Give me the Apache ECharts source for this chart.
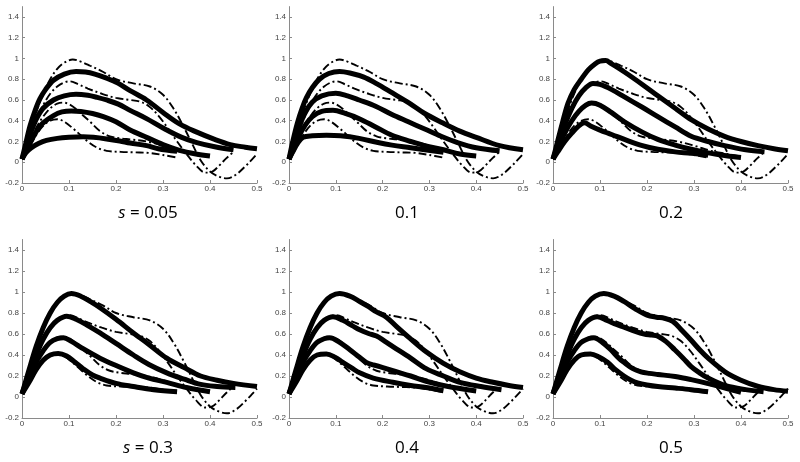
<!DOCTYPE html>
<html><head><meta charset="utf-8">
<script src="https://cdn.jsdelivr.net/npm/echarts@6/dist/echarts.min.js"></script>
<style>html,body{margin:0;padding:0;background:#fff}#c{width:800px;height:462px}</style>
</head><body><div id="c"></div><script>
// panel captions (s values)
const panelLabels = ['0.05', '0.1', '0.2', '0.3', '0.4', '0.5'];
const xTicks = [0, 0.1, 0.2, 0.3, 0.4, 0.5];
const yTicks = [-0.2, 0, 0.2, 0.4, 0.6, 0.8, 1, 1.2, 1.4];

// dash-dot reference curves (same in every panel)
const ref1 = [[0,0.03],[0.015,0.14],[0.03,0.26],[0.045,0.35],[0.06,0.4],[0.075,0.415],[0.09,0.39],[0.11,0.32],[0.125,0.26],[0.14,0.2],[0.16,0.14],[0.18,0.11],[0.21,0.1],[0.24,0.095],[0.27,0.09],[0.3,0.07],[0.33,0.045]];
const ref2 = [[0,0.03],[0.015,0.18],[0.03,0.33],[0.045,0.44],[0.06,0.52],[0.075,0.565],[0.088,0.575],[0.1,0.56],[0.116,0.51],[0.13,0.45],[0.145,0.39],[0.166,0.3],[0.187,0.25],[0.21,0.23],[0.23,0.22],[0.265,0.2],[0.3,0.16],[0.336,0.11],[0.37,0.08],[0.4,0.055]];
const ref3 = [[0,0.03],[0.015,0.22],[0.03,0.4],[0.045,0.55],[0.06,0.66],[0.075,0.73],[0.09,0.77],[0.102,0.78],[0.12,0.75],[0.14,0.71],[0.17,0.66],[0.2,0.62],[0.23,0.6],[0.25,0.585],[0.27,0.54],[0.29,0.45],[0.31,0.33],[0.33,0.2],[0.35,0.08],[0.37,-0.03],[0.39,-0.1],[0.405,-0.09],[0.42,-0.03],[0.435,0.04],[0.45,0.1]];
const ref4 = [[0,0.03],[0.015,0.26],[0.03,0.48],[0.045,0.66],[0.06,0.8],[0.075,0.9],[0.09,0.96],[0.108,0.99],[0.125,0.97],[0.145,0.93],[0.173,0.87],[0.2,0.8],[0.237,0.76],[0.272,0.73],[0.3,0.65],[0.322,0.52],[0.343,0.35],[0.364,0.16],[0.38,0.02],[0.4,-0.09],[0.42,-0.14],[0.436,-0.155],[0.455,-0.12],[0.475,-0.04],[0.49,0.03],[0.5,0.08]];

// solid curves, panel s = 0.05
const p1a = [[0,0.03],[0.008,0.09],[0.02,0.14],[0.035,0.18],[0.052,0.21],[0.075,0.23],[0.1,0.24],[0.13,0.245],[0.152,0.24],[0.18,0.225],[0.208,0.205],[0.23,0.185],[0.265,0.16],[0.29,0.13],[0.33,0.105]];
const p1b = [[0,0.03],[0.01,0.12],[0.02,0.21],[0.031,0.3],[0.045,0.38],[0.067,0.45],[0.085,0.485],[0.105,0.495],[0.125,0.49],[0.15,0.47],[0.173,0.44],[0.2,0.39],[0.23,0.31],[0.265,0.24],[0.3,0.17],[0.335,0.115],[0.37,0.08],[0.4,0.06]];
const p1c = [[0,0.03],[0.01,0.16],[0.02,0.3],[0.031,0.42],[0.045,0.52],[0.067,0.6],[0.09,0.64],[0.115,0.655],[0.14,0.645],[0.16,0.625],[0.18,0.6],[0.205,0.56],[0.23,0.5],[0.265,0.42],[0.3,0.33],[0.34,0.24],[0.372,0.19],[0.41,0.15],[0.45,0.12]];
const p1d = [[0,0.03],[0.008,0.18],[0.017,0.35],[0.028,0.5],[0.038,0.61],[0.05,0.7],[0.067,0.79],[0.09,0.85],[0.115,0.875],[0.135,0.87],[0.155,0.85],[0.18,0.81],[0.205,0.76],[0.23,0.69],[0.265,0.6],[0.3,0.48],[0.335,0.37],[0.372,0.29],[0.41,0.22],[0.443,0.17],[0.475,0.145],[0.5,0.13]];
// panel s = 0.1
const p2a = [[0,0.03],[0.008,0.1],[0.018,0.18],[0.03,0.24],[0.05,0.255],[0.08,0.26],[0.11,0.255],[0.15,0.23],[0.19,0.19],[0.22,0.165],[0.26,0.14],[0.29,0.12],[0.33,0.095]];
const p2b = [[0,0.03],[0.01,0.13],[0.02,0.24],[0.035,0.36],[0.05,0.44],[0.07,0.49],[0.094,0.5],[0.12,0.47],[0.15,0.42],[0.185,0.34],[0.22,0.26],[0.26,0.2],[0.29,0.16],[0.33,0.12],[0.365,0.08],[0.4,0.06]];
const p2c = [[0,0.03],[0.01,0.17],[0.02,0.32],[0.035,0.48],[0.05,0.58],[0.07,0.64],[0.1,0.665],[0.125,0.64],[0.15,0.6],[0.185,0.54],[0.22,0.46],[0.255,0.39],[0.29,0.32],[0.325,0.25],[0.36,0.19],[0.4,0.14],[0.45,0.11]];
const p2d = [[0,0.03],[0.008,0.2],[0.018,0.38],[0.028,0.52],[0.037,0.62],[0.05,0.72],[0.065,0.8],[0.085,0.855],[0.108,0.875],[0.13,0.86],[0.16,0.82],[0.186,0.76],[0.22,0.67],[0.257,0.57],[0.29,0.47],[0.328,0.38],[0.365,0.3],[0.4,0.24],[0.45,0.16],[0.5,0.12]];
// panel s = 0.2
const p3a = [[0,0.03],[0.01,0.1],[0.025,0.2],[0.04,0.28],[0.055,0.35],[0.067,0.38],[0.08,0.35],[0.1,0.31],[0.117,0.28],[0.135,0.25],[0.152,0.22],[0.19,0.16],[0.223,0.125],[0.26,0.1],[0.294,0.086],[0.33,0.067]];
const p3b = [[0,0.03],[0.01,0.13],[0.025,0.28],[0.04,0.4],[0.055,0.49],[0.07,0.55],[0.082,0.57],[0.1,0.55],[0.124,0.48],[0.152,0.39],[0.19,0.29],[0.223,0.22],[0.26,0.165],[0.294,0.125],[0.33,0.09],[0.365,0.065],[0.4,0.045]];
const p3c = [[0,0.03],[0.01,0.16],[0.025,0.36],[0.04,0.52],[0.055,0.64],[0.07,0.72],[0.085,0.76],[0.1,0.75],[0.125,0.7],[0.152,0.63],[0.19,0.53],[0.223,0.44],[0.26,0.34],[0.294,0.25],[0.33,0.2],[0.365,0.16],[0.41,0.12],[0.45,0.1]];
const p3d = [[0,0.03],[0.008,0.17],[0.02,0.38],[0.032,0.57],[0.045,0.7],[0.06,0.8],[0.075,0.89],[0.09,0.95],[0.1,0.975],[0.112,0.98],[0.124,0.95],[0.152,0.87],[0.19,0.75],[0.223,0.64],[0.26,0.52],[0.294,0.41],[0.33,0.32],[0.365,0.25],[0.4,0.2],[0.436,0.16],[0.47,0.13],[0.5,0.11]];
// panel s = 0.3
const p4a = [[0,0.03],[0.015,0.14],[0.03,0.26],[0.045,0.35],[0.06,0.4],[0.077,0.415],[0.095,0.39],[0.113,0.33],[0.13,0.27],[0.15,0.21],[0.166,0.18],[0.2,0.13],[0.237,0.1],[0.28,0.07],[0.33,0.05]];
const p4b = [[0,0.03],[0.015,0.18],[0.03,0.33],[0.045,0.44],[0.06,0.52],[0.075,0.555],[0.088,0.565],[0.105,0.53],[0.13,0.46],[0.166,0.37],[0.2,0.3],[0.237,0.23],[0.27,0.18],[0.308,0.14],[0.35,0.09],[0.4,0.05]];
const p4c = [[0,0.03],[0.015,0.22],[0.03,0.4],[0.045,0.55],[0.06,0.66],[0.075,0.73],[0.095,0.77],[0.115,0.74],[0.14,0.68],[0.166,0.61],[0.2,0.51],[0.237,0.4],[0.27,0.31],[0.308,0.23],[0.345,0.17],[0.38,0.12],[0.415,0.1],[0.454,0.09]];
const p4d = [[0,0.03],[0.015,0.26],[0.03,0.48],[0.045,0.66],[0.06,0.8],[0.075,0.9],[0.09,0.96],[0.105,0.985],[0.125,0.96],[0.145,0.91],[0.166,0.85],[0.2,0.74],[0.237,0.61],[0.27,0.5],[0.308,0.37],[0.345,0.28],[0.38,0.2],[0.415,0.16],[0.45,0.13],[0.5,0.1]];
// panel s = 0.4
const p5a = [[0,0.03],[0.015,0.14],[0.03,0.26],[0.045,0.35],[0.06,0.4],[0.08,0.41],[0.098,0.38],[0.115,0.33],[0.133,0.28],[0.151,0.23],[0.18,0.18],[0.222,0.14],[0.26,0.11],[0.293,0.09],[0.33,0.06]];
const p5b = [[0,0.03],[0.015,0.18],[0.03,0.33],[0.045,0.44],[0.06,0.52],[0.075,0.555],[0.087,0.565],[0.105,0.53],[0.13,0.45],[0.15,0.38],[0.165,0.33],[0.18,0.305],[0.194,0.29],[0.222,0.25],[0.26,0.2],[0.293,0.15],[0.34,0.1],[0.4,0.057]];
const p5c = [[0,0.03],[0.015,0.22],[0.03,0.4],[0.045,0.55],[0.06,0.66],[0.075,0.73],[0.094,0.765],[0.115,0.73],[0.135,0.68],[0.151,0.64],[0.17,0.605],[0.187,0.58],[0.205,0.53],[0.222,0.48],[0.26,0.37],[0.293,0.27],[0.33,0.2],[0.365,0.14],[0.41,0.1],[0.454,0.07]];
const p5d = [[0,0.03],[0.015,0.26],[0.03,0.48],[0.045,0.66],[0.06,0.8],[0.075,0.9],[0.09,0.96],[0.108,0.985],[0.13,0.96],[0.151,0.91],[0.17,0.86],[0.187,0.81],[0.208,0.76],[0.23,0.67],[0.258,0.56],[0.293,0.43],[0.33,0.32],[0.365,0.24],[0.4,0.18],[0.436,0.14],[0.47,0.11],[0.5,0.09]];
// panel s = 0.5
const p6a = [[0,0.03],[0.015,0.14],[0.03,0.26],[0.045,0.35],[0.06,0.4],[0.08,0.41],[0.098,0.38],[0.116,0.33],[0.133,0.26],[0.151,0.2],[0.166,0.16],[0.18,0.135],[0.2,0.115],[0.223,0.1],[0.26,0.085],[0.294,0.07],[0.33,0.05]];
const p6b = [[0,0.03],[0.015,0.18],[0.03,0.33],[0.045,0.44],[0.06,0.52],[0.075,0.555],[0.087,0.565],[0.105,0.52],[0.123,0.45],[0.14,0.37],[0.151,0.33],[0.17,0.27],[0.187,0.24],[0.205,0.225],[0.223,0.215],[0.26,0.195],[0.294,0.165],[0.337,0.12],[0.37,0.08],[0.4,0.045]];
const p6c = [[0,0.03],[0.015,0.22],[0.03,0.4],[0.045,0.55],[0.06,0.66],[0.075,0.73],[0.094,0.765],[0.115,0.73],[0.135,0.69],[0.151,0.665],[0.175,0.625],[0.194,0.6],[0.21,0.59],[0.223,0.58],[0.24,0.53],[0.259,0.45],[0.277,0.37],[0.294,0.29],[0.312,0.23],[0.33,0.18],[0.366,0.11],[0.41,0.07],[0.448,0.05]];
const p6d = [[0,0.03],[0.015,0.26],[0.03,0.48],[0.045,0.66],[0.06,0.8],[0.075,0.9],[0.09,0.96],[0.108,0.985],[0.13,0.96],[0.151,0.91],[0.175,0.84],[0.2,0.78],[0.22,0.76],[0.237,0.75],[0.255,0.72],[0.275,0.63],[0.294,0.54],[0.312,0.45],[0.33,0.37],[0.366,0.24],[0.4,0.16],[0.437,0.1],[0.47,0.07],[0.5,0.055]];

const refs = [ref1, ref2, ref3, ref4];
const solids = [[p1a,p1b,p1c,p1d],[p2a,p2b,p2c,p2d],[p3a,p3b,p3c,p3d],[p4a,p4b,p4c,p4d],[p5a,p5b,p5c,p5d],[p6a,p6b,p6c,p6d]];

// layout
const colLeft = [22, 289, 553];
const colWidth = [235, 234, 235];
const rowTop = [6.6, 239.5];
const rowHeight = [176.4, 178.5];
const capX = [148, 407, 671];
const capY = [213, 448];

const grid = [], xAxis = [], yAxis = [], series = [], graphic = [];
const axisColor = '#8a8a8a';
const labelStyle = {fontSize: 8, color: '#444', fontFamily: 'Liberation Sans, Arial, sans-serif'};
for (let i = 0; i < 6; i++) {
  const r = Math.floor(i / 3), c = i % 3;
  grid.push({left: colLeft[c], top: rowTop[r], width: colWidth[c], height: rowHeight[r], containLabel: false});
  xAxis.push({
    type: 'value', gridIndex: i, min: 0, max: 0.5, interval: 0.1,
    axisLine: {show: true, onZero: false, lineStyle: {color: axisColor, width: 1}},
    axisTick: {show: true, inside: true, length: 3, lineStyle: {color: axisColor}, customValues: xTicks},
    axisLabel: {show: true, margin: 2, ...labelStyle, customValues: xTicks},
    splitLine: {show: false}
  });
  yAxis.push({
    type: 'value', gridIndex: i, min: -0.2, max: 1.5, interval: 0.2,
    axisLine: {show: true, onZero: false, lineStyle: {color: axisColor, width: 1}},
    axisTick: {show: true, inside: true, length: 3, lineStyle: {color: axisColor}, customValues: yTicks},
    axisLabel: {show: true, margin: 3, ...labelStyle, customValues: yTicks},
    splitLine: {show: false}
  });
  refs.forEach((d) => {
    series.push({
      type: 'line', xAxisIndex: i, yAxisIndex: i, data: d, showSymbol: false,
      smooth: 0.35, z: 2, silent: true,
      lineStyle: {color: '#000', width: 1.9, type: [8, 3, 2, 3]}
    });
  });
  solids[i].forEach((d) => {
    series.push({
      type: 'line', xAxisIndex: i, yAxisIndex: i, data: d, showSymbol: false,
      smooth: 0.35, z: 3, silent: true,
      lineStyle: {color: '#000', width: 5, cap: 'butt', join: 'round'}
    });
  });
  const lab = i === 0 || i === 3 ? '{it|s} = ' + panelLabels[i] : panelLabels[i];
  graphic.push({
    type: 'text', x: capX[c], y: capY[r],
    style: {
      text: lab, align: 'center', verticalAlign: 'middle',
      font: '17px "Open Sans", sans-serif', fill: '#000',
      rich: {it: {fontStyle: 'italic', fontSize: 17, fontFamily: 'Open Sans, sans-serif', fill: '#000'}}
    }
  });
}

const chart = echarts.init(document.getElementById('c'), null, {renderer: 'canvas'});
chart.setOption({animation: false, backgroundColor: '#fff', grid, xAxis, yAxis, series, graphic});
</script></body></html>
